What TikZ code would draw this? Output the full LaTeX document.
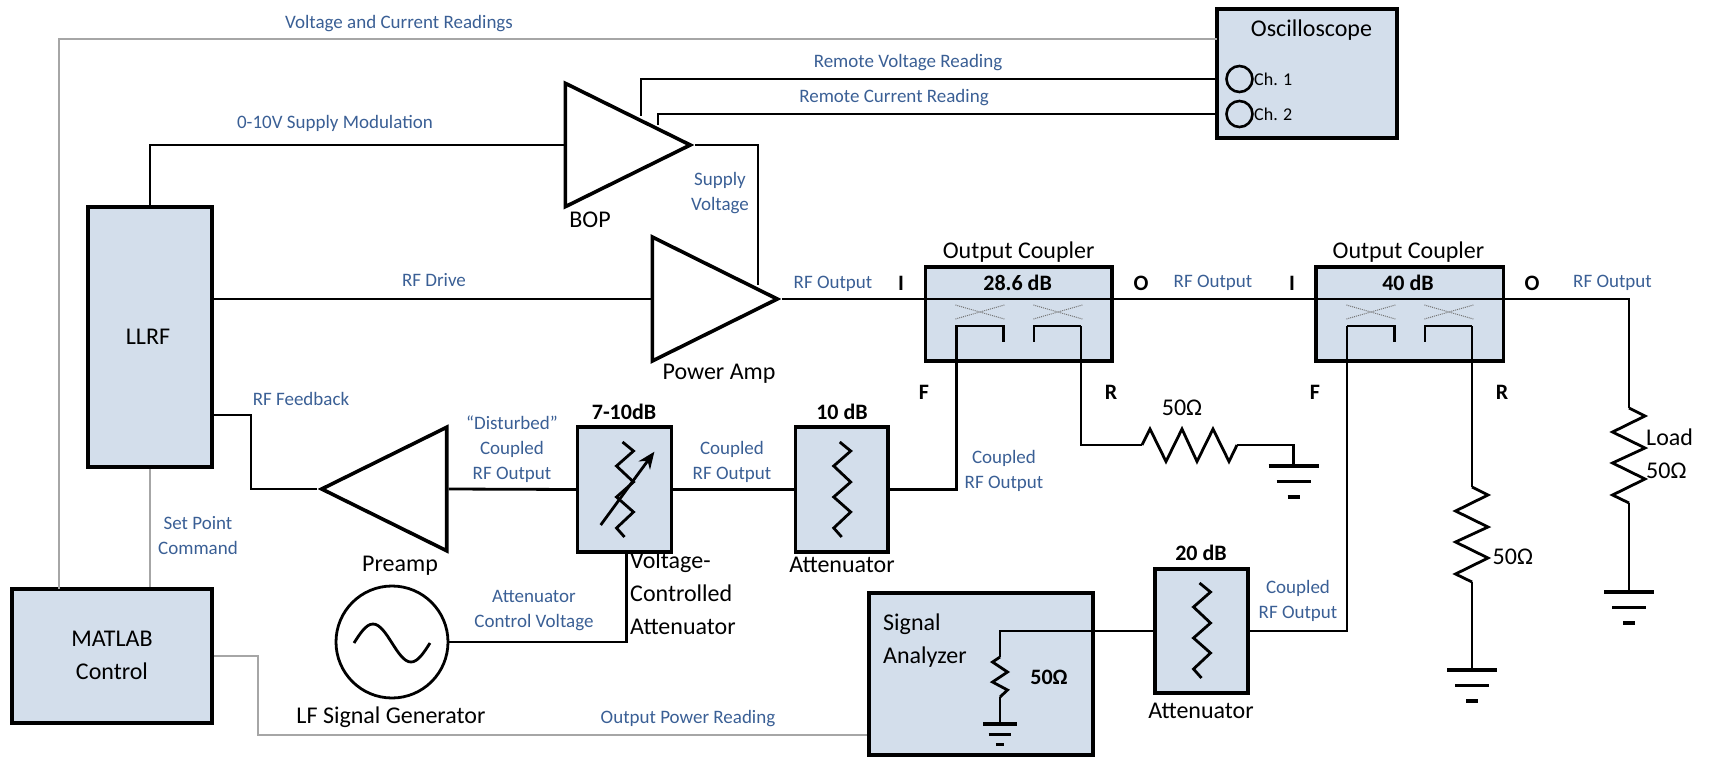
\documentclass[tikz,border=0pt]{standalone}
\usepackage{fontspec}
\setmainfont{Carlito}
\usetikzlibrary{shapes.geometric,arrows.meta}
\definecolor{boxblue}{HTML}{D3DEEB}
\definecolor{textblue}{HTML}{3A5F95}
\definecolor{greyline}{HTML}{A6A6A6}
\tikzset{
	box/.style={draw=black,fill=boxblue,line width=3.6pt,inner sep=0pt},
	wire/.style={draw=black,line width=2.8pt,line join=miter},
	greywire/.style={draw=greyline,line width=2.6pt},
	zig/.style={draw=black,line width=2.8pt,line join=miter},
	amp/.style={draw=black,fill=white,line width=3.6pt,isosceles triangle,isosceles triangle stretches,inner sep=0pt},
	lbl/.style={text=textblue,align=center,inner sep=0pt,font=\fontsize{19}{25}\selectfont},
	blk/.style={text=black,align=center,inner sep=0pt,font=\fontsize{24}{33}\selectfont},
	boldblk/.style={text=black,align=center,inner sep=0pt,font=\fontsize{22}{26}\selectfont\bfseries},
	port/.style={draw=black,circle,line width=2.6pt,minimum size=26pt,inner sep=0pt},
	gnd/.pic={
		\draw[line width=3.2pt] (-25,0) -- (25,0);
		\draw[line width=3.2pt] (-17,15.5) -- (17,15.5);
		\draw[line width=3.2pt] (-6,31) -- (6,31);
	},
	rzig/.pic={
		\draw[zig] (0,0) -- (16,8) -- (-16.5,24) -- (16,40) -- (-16.5,55) -- (16,71) -- (-16.5,87) -- (0,95);
	},
	attzig/.pic={
		\draw[zig] (-2,0) -- (9,9) -- (-8,24) -- (9,40) -- (-8,55) -- (9,70) -- (-8,86) -- (0,95);
	}
}
\begin{document}
\begin{tikzpicture}[x=1pt,y=-1pt]
	\useasboundingbox (0,0) rectangle (1715,757);

	\node[box,minimum width=124pt,minimum height=260pt] (llrf) at (150,337) {};
	\node[box,minimum width=200pt,minimum height=134pt] (matlab) at (112,656) {};
	\node[box,minimum width=180pt,minimum height=129pt] (scope) at (1307,73.5) {};
	\node[box,minimum width=186.6pt,minimum height=94pt] (oc1) at (1018.7,314) {};
	\node[box,minimum width=187.4pt,minimum height=94pt] (oc2) at (1409.7,314) {};
	\node[box,minimum width=93.8pt,minimum height=125pt] (vca) at (624.5,489.5) {};
	\node[box,minimum width=92.6pt,minimum height=125pt] (att1) at (841.7,489.5) {};
	\node[box,minimum width=93pt,minimum height=124pt] (att2) at (1201.5,631) {};
	\node[box,minimum width=224pt,minimum height=162pt] (sa) at (981,674) {};

	\node[amp,minimum height=125pt,minimum width=123.4pt,anchor=apex] (bop) at (695,145) {};
	\node[amp,minimum height=125pt,minimum width=124pt,anchor=apex] (pa) at (782,299) {};
	\node[amp,minimum height=125pt,minimum width=123.5pt,shape border rotate=180,anchor=apex] (pre) at (317,489) {};
	\node[draw=black,circle,line width=2.8pt,minimum size=112pt,inner sep=0pt] (gen) at (392,642) {};
	\node[port] (ch1) at (1239.5,79) {};
	\node[port] (ch2) at (1239.5,114) {};

	\coordinate (bv) at (641,116);
	\coordinate (bc) at (658,125);
	\coordinate (ps) at (758,285);
	\coordinate (vcin) at (59,589);
	\coordinate (vcout) at (1217,39);
	\coordinate (r1top) at (1081,326);
	\coordinate (f1top) at (956.5,326);
	\coordinate (r2top) at (1472,326);
	\coordinate (f2top) at (1347,326);
	\coordinate (r1a) at (1142,445);
	\coordinate (r1b) at (1237,445);
	\coordinate (g1) at (1293.5,466);
	\coordinate (r2a) at (1472,487);
	\coordinate (r2b) at (1472,582);
	\coordinate (g2) at (1472,670);
	\coordinate (loada) at (1629,408);
	\coordinate (loadb) at (1629,503);
	\coordinate (g3) at (1629,592);
	\coordinate (sar) at (1000,657);
	\coordinate (sarb) at (1000,697);
	\coordinate (g4) at (1000,724);
	\coordinate (mo) at (258,735);

	\draw[wire] (llrf.north) |- (bop.lower side);
	\draw[wire] (llrf.east |- pa.lower side) -- (pa.lower side);
	\draw[wire] (bop.apex) -| (ps);
	\draw[wire] (bv) |- (scope.west |- ch1);
	\draw[wire] (bc) |- (scope.west |- ch2);
	\draw[wire] (pa.apex) -| (loada);
	\draw[wire] (llrf.east |- 0,415) -| (251,489) -- (pre.apex);
	\draw[wire] (pre.lower side) -- (vca.west);
	\draw[wire] (vca.east) -- (att1.west);
	\draw[wire] (att1.east) -| (f1top) -| ++(46.9,16);
	\draw[wire] (r1top) -| ++(-47,16);
	\draw[wire] (r1top) |- (r1a);
	\draw[wire] (r1b) -| (g1);
	\draw[wire] (r2top) -- (r2a);
	\draw[wire] (r2b) -- (g2);
	\draw[wire] (loadb) -- (g3);
	\draw[wire] (f2top) -| ++(47.3,16);
	\draw[wire] (r2top) -| ++(-47,16);
	\draw[wire] (att2.east) -| (f2top);
	\draw[wire] (att2.west) -| (sar);
	\draw[wire] (sarb) -- (g4);
	\draw[wire] (vca.south) ++(2,0) |- (gen.east);
	\draw[greywire] (vcin) |- (vcout);
	\draw[greywire] (llrf.south) -- (llrf.south |- matlab.north);
	\draw[greywire] (matlab.east) -| (mo) -- (sa.west |- mo);

	\pic at (r1a) [rotate=90] {rzig};
	\pic at (r2a) {rzig};
	\pic at (loada) {rzig};
	\pic at (g1) {gnd};
	\pic at (g2) {gnd};
	\pic at (g3) {gnd};
	\pic at (g4) [scale=0.67] {gnd};
	\pic at (att1.north |- 0,442) {attzig};
	\pic at (vca.north |- 0,442) {attzig};
	\pic at (att2.north |- 0,583) {attzig};
	\draw[zig] (sar) -- ++(-7.5,5) -- ++(15,10) -- ++(-15,10) -- ++(15,8) -- ++(-7.5,7);
	\draw[-{Stealth[length=17pt,width=14pt]},line width=2.8pt] (600.7,525) -- (654.4,451.7);
	\draw[line width=2.8pt] ([xshift=-38pt,yshift=-1pt]gen.center) sin ++(19,-19) cos ++(19,19) sin ++(19,19) cos ++(19,-19);
	\foreach \ox in {955.4,1033.4,1346.4,1424.4}{
		\draw[black!55,densely dotted,line width=1pt] (\ox,305) -- ++(49,14) (\ox,319) -- ++(49,-14);
	}

	\node[blk] (llrft) at (148,337) {LLRF};
	\node[blk] (matlabt) at (112,655) {MATLAB\\Control};
	\node[blk] (scopet) at (1311.5,30) {Oscilloscope};
	\node[blk] (boptxt) at (590,220) {BOP};
	\node[blk] (patxt) at (719,374) {Power Amp};
	\node[blk] (oc1t) at (1018.7,252) {Output Coupler};
	\node[blk] (oc2t) at (1408.5,252) {Output Coupler};
	\node[blk] (pretxt) at (400,566) {Preamp};
	\node[blk,align=left,anchor=north west] (vcat) at (630,552) {Voltage-\\Controlled\\Attenuator};
	\node[blk] (att1t) at (842,565) {Attenuator};
	\node[blk] (att2t) at (1201,711) {Attenuator};
	\node[blk] (gent) at (391,717) {LF Signal Generator};
	\node[blk,align=left,anchor=west] (sat) at (883,640.5) {Signal\\Analyzer};
	\node[blk] (r1t) at (1182,408) {50Ω};
	\node[blk,anchor=west] (r2t) at (1492.5,557) {50Ω};
	\node[blk,align=left,anchor=west] (loadt) at (1646,454) {Load\\50Ω};
	\node[blk,font=\fontsize{18}{22}\selectfont,anchor=west] (ch1t) at (1254,79) {Ch. 1};
	\node[blk,font=\fontsize{18}{22}\selectfont,anchor=west] (ch2t) at (1254,114) {Ch. 2};

	\node[boldblk] (oc1db) at (1017.6,283) {28.6 dB};
	\node[boldblk] (oc2db) at (1408,283) {40 dB};
	\node[boldblk] (vcadb) at (624,412) {7-10dB};
	\node[boldblk] (att1db) at (842,412) {10 dB};
	\node[boldblk] (att2db) at (1201,553) {20 dB};
	\node[boldblk] (sadb) at (1049,677) {50Ω};
	\node[boldblk] (i1) at (901,283) {I};
	\node[boldblk] (o1) at (1141,283) {O};
	\node[boldblk] (i2) at (1292,283) {I};
	\node[boldblk] (o2) at (1532,283) {O};
	\node[boldblk] (f1) at (924,392) {F};
	\node[boldblk] (r1) at (1111,392) {R};
	\node[boldblk] (f2) at (1315,392) {F};
	\node[boldblk] (r2) at (1502,392) {R};

	\node[lbl] (vcread) at (399,24) {Voltage and Current Readings};
	\node[lbl] (rvolt) at (908,63) {Remote Voltage Reading};
	\node[lbl] (rcurr) at (894,98) {Remote Current Reading};
	\node[lbl] (modt) at (335,123) {0-10V Supply Modulation};
	\node[lbl] (supt) at (720,193) {Supply\\Voltage};
	\node[lbl] (drvt) at (434,280) {RF Drive};
	\node[lbl] (out1) at (833,284) {RF Output};
	\node[lbl] (out2) at (1213,283) {RF Output};
	\node[lbl] (out3) at (1612.5,283) {RF Output};
	\node[lbl] (fbt) at (301,399) {RF Feedback};
	\node[lbl] (dist) at (512,449) {“Disturbed”\\Coupled\\RF Output};
	\node[lbl] (cpl1) at (732,461.5) {Coupled\\RF Output};
	\node[lbl] (cpl2) at (1004,470.5) {Coupled\\RF Output};
	\node[lbl] (cpl3) at (1298,600.5) {Coupled\\RF Output};
	\node[lbl] (ctrl) at (534,610.5) {Attenuator\\Control Voltage};
	\node[lbl] (setp) at (198,535.5) {Set Point\\Command};
	\node[lbl] (pwr) at (688,719) {Output Power Reading};
\end{tikzpicture}
\end{document}
